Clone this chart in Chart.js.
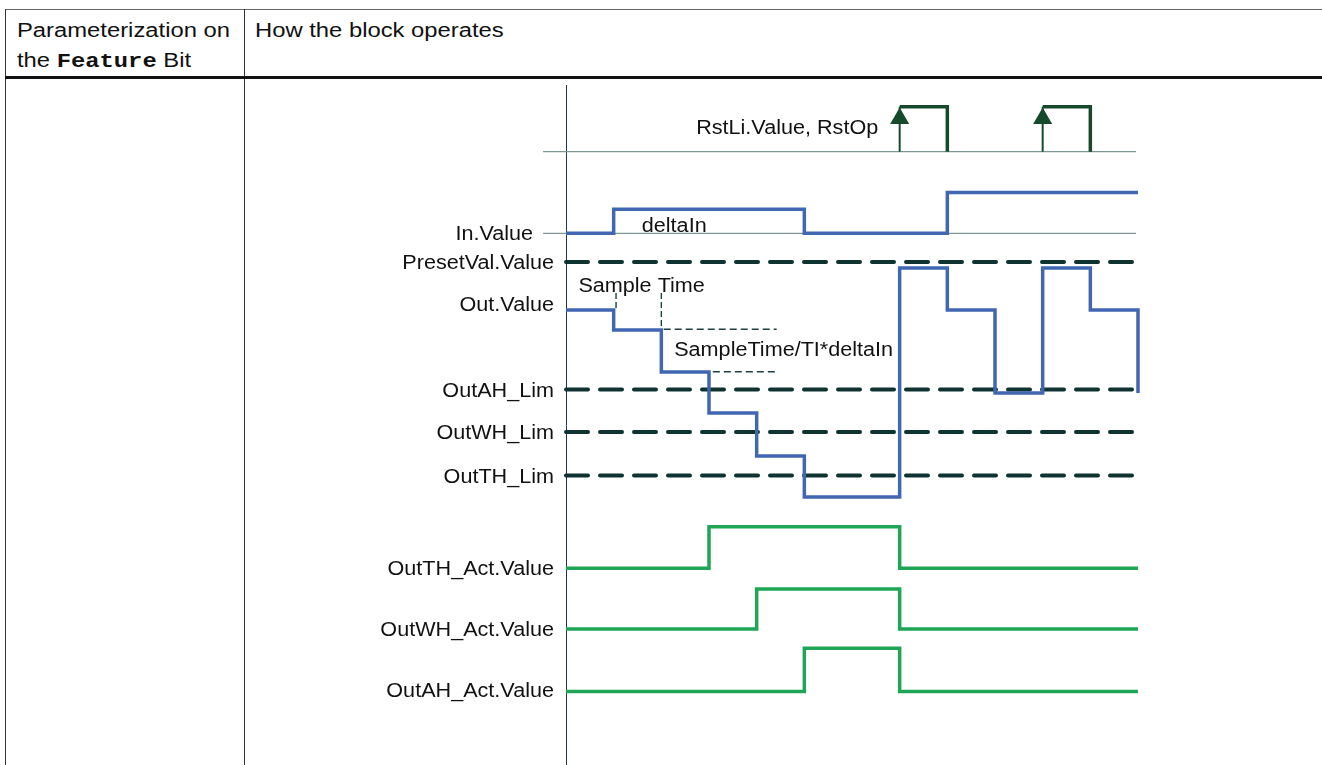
<!DOCTYPE html>
<html>
<head>
<meta charset="utf-8">
<title>How the block operates</title>
<script src="https://cdn.jsdelivr.net/npm/chart.js@4.4.1/dist/chart.umd.min.js"></script>
<style>
  html, body { margin: 0; padding: 0; background: #fff; overflow: hidden; }
  body { width: 1322px; height: 765px; position: relative; font-family: "Liberation Sans", Arial, sans-serif; color: #111; }
  .rule { position: absolute; background: #333; }
  .head { position: absolute; font-size: 20px; line-height: 20px; white-space: nowrap; transform: scaleX(1.19); transform-origin: left top; }
  .head b { font-family: "Liberation Mono", "Courier New", monospace; font-weight: bold; }
  #plot { position: absolute; left: 246px; top: 79px; width: 1076px; height: 686px; }
</style>
</head>
<body>
  <div class="rule" style="left:5px;top:9px;width:1317px;height:1px;background:#666"></div>
  <div class="rule" style="left:5px;top:9px;width:1px;height:756px"></div>
  <div class="rule" style="left:244px;top:9px;width:1px;height:756px"></div>
  <div class="rule" style="left:5px;top:76px;width:1317px;height:3px;background:#111"></div>

  <div class="head" style="left:17px;top:20px">Parameterization on</div>
  <div class="head" style="left:17px;top:50px">the <b>Feature</b> Bit</div>
  <div class="head" style="left:255px;top:20px">How the block operates</div>

  <div id="plot"><canvas id="chart"></canvas></div>

<script>
// time is counted in sample periods, levels in arbitrary diagram units (0 = bottom)
const timeMax = 12;
const levelMax = 68;
const refLineStart = -0.48;   // grey reference lines begin left of the time axis
const refLineEnd = 11.96;

// RstLi.Value, RstOp pulses
const rstBase = 61.33;
const rstHigh = 65.83;
const rstArrowHead = 64.65;
const rstRise = [7, 10];
const rstFall = [8, 11];

// In.Value
const inBase = 53.17;
const inTimes = [0, 1, 5, 8, 12];
const inValues = [53.17, 55.57, 53.17, 57.25, 57.25];

// Out.Value
const outTimes = [0, 1, 2, 3, 4, 5, 7, 8, 9, 10, 11, 12];
const outValues = [45.5, 43.5, 39.3, 35.2, 30.9, 26.8, 49.7, 45.5, 37.2, 49.7, 45.5, 37.2];

// limit lines
const limitLevels = [50.3, 37.55, 33.3, 28.95];   // PresetVal, AH, WH, TH

// alarm outputs
const thActTimes = [0, 3, 7, 12];
const thActValues = [19.67, 23.83, 19.67, 19.67];
const whActTimes = [0, 4, 7, 12];
const whActValues = [13.6, 17.6, 13.6, 13.6];
const ahActTimes = [0, 5, 7, 12];
const ahActValues = [7.35, 11.67, 7.35, 7.35];

// sample time guides
const guideVTimes = [1.05, 2.0];
const guideVTop = [47.2, 47.2];
const guideVBottom = [45.5, 43.57];
const guideHLevels = [43.57, 39.33];
const guideHFrom = [2.05, 3.08];
const guideHTo = [4.42, 4.42];

// texts
const signalNames = ['In.Value', 'PresetVal.Value', 'Out.Value', 'OutAH_Lim', 'OutWH_Lim', 'OutTH_Lim',
  'OutTH_Act.Value', 'OutWH_Act.Value', 'OutAH_Act.Value'];
const signalLabelLevels = [53.17, 50.33, 46.1, 37.55, 33.3, 28.95, 19.7, 13.65, 7.5];
const noteTexts = ['RstLi.Value, RstOp', 'deltaIn', 'Sample Time', 'SampleTime/TI*deltaIn'];
const noteTimes = [6.55, 1.59, 0.26, 2.27];
const noteLevels = [63.8, 54.05, 48.03, 41.6];

const BLUE = '#4167b3';
const GREEN = '#1ea656';
const DARKGREEN = '#174a2c';
const DASHED = '#0e3330';
const GREY = '#7d9694';

function series(times, values, style) {
  return Object.assign({
    data: times.map((t, i) => ({ x: t, y: values[i] })),
    clip: false,
    pointRadius: 0,
    fill: false,
    tension: 0,
    borderJoinStyle: 'miter'
  }, style);
}

const datasets = [];
datasets.push(series(outTimes, outValues, { borderColor: BLUE, borderWidth: 3.5, stepped: true }));
datasets.push(series(inTimes, inValues, { borderColor: BLUE, borderWidth: 3.5, stepped: true }));
[[thActTimes, thActValues], [whActTimes, whActValues], [ahActTimes, ahActValues]].forEach(([t, v]) => {
  datasets.push(series(t, v, { borderColor: GREEN, borderWidth: 3.5, stepped: true }));
});
rstRise.forEach((t, i) => {
  datasets.push(series([t, rstFall[i], rstFall[i]], [rstHigh, rstHigh, rstBase], { borderColor: DARKGREEN, borderWidth: 3.5 }));
  datasets.push(series([t, t], [rstBase, rstHigh], { borderColor: DARKGREEN, borderWidth: 2 }));
  datasets.push(series([t], [rstArrowHead], {
    showLine: false, pointStyle: 'triangle', pointRadius: 11,
    pointBackgroundColor: DARKGREEN, pointBorderColor: DARKGREEN, pointBorderWidth: 0
  }));
});
datasets.push(series([refLineStart, refLineEnd], [rstBase, rstBase], { borderColor: GREY, borderWidth: 1.3 }));
datasets.push(series([refLineStart, refLineEnd], [inBase, inBase], { borderColor: GREY, borderWidth: 1.3 }));
guideVTimes.forEach((t, i) => {
  datasets.push(series([t, t], [guideVTop[i], guideVBottom[i]], { borderColor: '#1d4040', borderWidth: 1.4, borderDash: [6, 3] }));
});
guideHLevels.forEach((v, i) => {
  datasets.push(series([guideHFrom[i], guideHTo[i]], [v, v], { borderColor: '#1d4040', borderWidth: 1.4, borderDash: [7, 4] }));
});
limitLevels.forEach(v => {
  datasets.push(series([0, timeMax], [v, v], {
    borderColor: DASHED, borderWidth: 4, borderDash: [22, 12], borderCapStyle: 'round'
  }));
});

// signal names and notes
const diagramText = {
  id: 'diagramText',
  afterDatasetsDraw(chart) {
    const { ctx, chartArea, scales: { x, y } } = chart;
    const put = (text, px, py, align) => {
      ctx.save();
      ctx.translate(px, py + 7);
      ctx.scale(1.08, 1);
      ctx.textAlign = align;
      ctx.textBaseline = 'alphabetic';
      ctx.fillStyle = '#111';
      ctx.font = '20px "Liberation Sans", Arial, sans-serif';
      ctx.fillText(text, 0, 0);
      ctx.restore();
    };
    signalNames.forEach((name, i) => {
      const right = name === 'In.Value' ? x.getPixelForValue(refLineStart) - 10 : chartArea.left - 12;
      put(name, right, y.getPixelForValue(signalLabelLevels[i]), 'right');
    });
    noteTexts.forEach((t, i) => {
      put(t, x.getPixelForValue(noteTimes[i]), y.getPixelForValue(noteLevels[i]), i === 0 ? 'right' : 'left');
    });
  }
};

new Chart(document.getElementById('chart'), {
  type: 'line',
  data: { datasets },
  plugins: [diagramText],
  options: {
    responsive: true,
    maintainAspectRatio: false,
    animation: false,
    events: [],
    layout: { autoPadding: false, padding: { left: 320, right: 184, top: 6, bottom: 0 } },
    plugins: { legend: { display: false }, tooltip: { enabled: false } },
    scales: {
      x: { type: 'linear', min: 0, max: timeMax, display: false },
      y: {
        type: 'linear', min: 0, max: levelMax,
        ticks: { display: false },
        grid: { display: false, drawTicks: false },
        border: { display: true, color: '#1c3845', width: 1 },
        afterFit: s => { s.width = 0; }
      }
    }
  }
});
</script>
</body>
</html>
